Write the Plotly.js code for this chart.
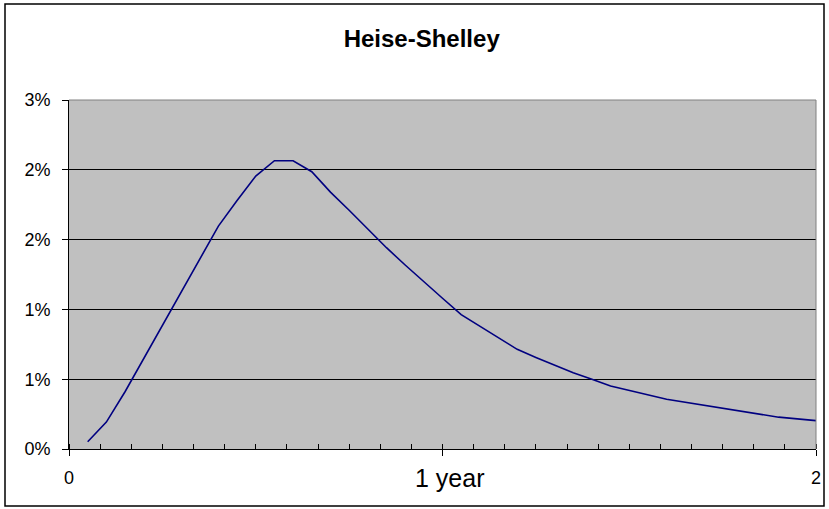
<!DOCTYPE html>
<html>
<head>
<meta charset="utf-8">
<script src="https://cdn.plot.ly/plotly-3.0.1.min.js"></script>
<style>
html,body{margin:0;padding:0;background:#fff;}
#chart{width:829px;height:509px;}
</style>
</head>
<body>
<div id="chart"></div>
<script>
// Data: time in years, hazard in percent
var years = [0.05,0.10,0.15,0.20,0.25,0.30,0.35,0.40,0.45,0.50,0.55,0.60,0.65,0.70,0.75,0.80,0.85,0.90,0.95,1.00,1.05,1.10,1.15,1.20,1.25,1.30,1.35,1.40,1.45,1.60,1.90,2.00];
var hazardPct = [0.052,0.193,0.410,0.648,0.886,1.125,1.360,1.597,1.780,1.955,2.065,2.065,1.986,1.840,1.710,1.576,1.442,1.318,1.197,1.080,0.963,0.880,0.797,0.714,0.656,0.601,0.546,0.499,0.451,0.356,0.228,0.203];

var yTickVals = [0,0.5,1,1.5,2,2.5];
var yTickText = ['0%','1%','1%','2%','2%','3%'];
var xTickVals = [0,1,2];
var xTickText = ['0','','2'];
var xMidLabel = '1 year';
var chartTitle = 'Heise-Shelley';

var W = 829, H = 509;
var L = 69, R = 13, T = 100, B = 60;
var pw = W - L - R, ph = H - T - B;
function px2paperX(p){ return (p - L) / pw; }
function px2paperY(p){ return (H - B - p) / ph; }

var FONT = 'Liberation Sans, Arial, sans-serif';

var trace = {
  x: years, y: hazardPct, type: 'scatter', mode: 'lines',
  line: {color: '#000080', width: 1.6},
  hoverinfo: 'skip', showlegend: false
};

var layout = {
  width: W, height: H,
  margin: {l: L, r: R, t: T, b: B, pad: 0},
  paper_bgcolor: '#ffffff',
  plot_bgcolor: '#c0c0c0',
  font: {family: FONT, color: '#000'},
  title: {
    text: '<b>' + chartTitle + '</b>',
    font: {family: FONT, size: 24, color: '#000'},
    xref: 'container', yref: 'container',
    x: 421.7 / W, xanchor: 'center',
    y: 1 - 38.3 / H, yanchor: 'middle'
  },
  xaxis: {
    range: [0, 2], fixedrange: true,
    tickmode: 'array', tickvals: xTickVals, ticktext: xTickText,
    ticks: 'outside', ticklen: 6, tickcolor: '#000', tickwidth: 1,
    tickfont: {family: FONT, size: 18, color: '#000'},
    ticklabelstandoff: 6,
    minor: {tickmode: 'linear', tick0: 0, dtick: 1/12, ticks: 'inside', ticklen: 5, tickcolor: '#000', showgrid: false},
    showgrid: false, zeroline: false,
    showline: true, linecolor: '#000', linewidth: 1
  },
  yaxis: {
    range: [0, 2.5], fixedrange: true,
    tickmode: 'array', tickvals: yTickVals, ticktext: yTickText,
    ticks: 'outside', ticklen: 6, tickcolor: '#000', tickwidth: 1,
    tickfont: {family: FONT, size: 18, color: '#000'},
    ticklabelstandoff: 8,
    showgrid: true, gridcolor: '#000', gridwidth: 1,
    zeroline: false,
    showline: true, linecolor: '#000', linewidth: 1
  },
  shapes: [
    {type: 'line', xref: 'paper', yref: 'paper', x0: 0, x1: 1, y0: 1, y1: 1, line: {color: '#808080', width: 1}, layer: 'above'},
    {type: 'line', xref: 'paper', yref: 'paper', x0: 1, x1: 1, y0: 0, y1: 1, line: {color: '#808080', width: 1}, layer: 'above'},
    {type: 'rect', xref: 'paper', yref: 'paper',
     x0: px2paperX(5), x1: px2paperX(824), y0: px2paperY(506), y1: px2paperY(4),
     line: {color: '#000', width: 1.5}, fillcolor: 'rgba(0,0,0,0)', layer: 'above'}
  ],
  annotations: [
    {text: xMidLabel, xref: 'paper', yref: 'paper',
     x: px2paperX(449), y: px2paperY(478), xanchor: 'center', yanchor: 'middle',
     showarrow: false, font: {family: FONT, size: 25, color: '#000'}}
  ]
};

Plotly.newPlot('chart', [trace], layout, {displayModeBar: false, staticPlot: true});
</script>
</body>
</html>
